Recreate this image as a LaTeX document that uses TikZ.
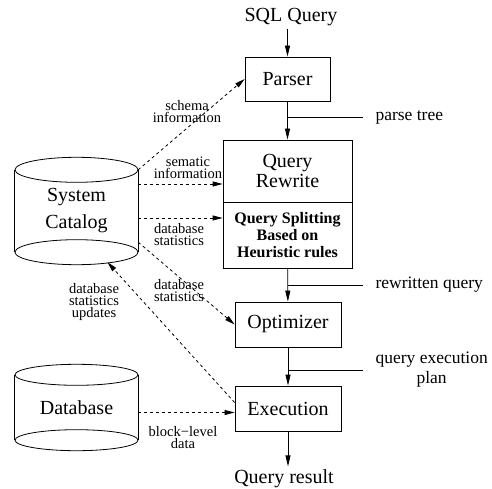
\documentclass[tikz,border=0pt]{standalone}
\usepackage{fontspec}
\setmainfont{Liberation Serif}
\usetikzlibrary{arrows.meta}

\begin{document}
\begin{tikzpicture}[x=1pt, y=-1pt,
  box/.style={draw, line width=0.8pt, align=center, inner sep=0pt, font=\fontsize{20}{20}\selectfont},
  store/.style={minimum width=123pt, align=center, inner sep=0pt, font=\fontsize{20}{27}\selectfont},
  big/.style={font=\fontsize{20}{24}\selectfont},
  side/.style={font=\fontsize{17.5}{20}\selectfont, align=center, anchor=west},
  tiny/.style={font=\fontsize{14.5}{12}\selectfont, align=center, inner sep=0pt},
  flow/.style={line width=0.8pt, -{Triangle[length=11pt,width=5pt]}},
  info/.style={line width=0.8pt, dashed, -{Triangle[length=10pt,width=5pt]}},
  tap/.style={line width=0.8pt}]
\useasboundingbox (0,0) rectangle (492,489);

% query pipeline
\node[big] (sql) at (291,17) {SQL Query};
\node[box, minimum width=85pt, minimum height=44pt] (parser) at (287.5,79) {Parser};
\node[box, minimum width=129pt, minimum height=62pt] (qr) at (287.5,171) {Query\\Rewrite};
\node[box, minimum width=129pt, minimum height=66pt, font=\fontsize{16}{17}\selectfont\bfseries] (split) at (287.5,235) {Query Splitting\\Based on\\Heuristic rules};
\node[box, minimum width=106pt, minimum height=45pt] (opt) at (288,324.5) {Optimizer};
\node[box, minimum width=106pt, minimum height=45pt] (exec) at (288,408.5) {Execution};
\node[big] (result) at (284,479) {Query result};

% stores
\node[store, minimum height=82pt] (catalog) at (76.5,211) {System\\Catalog};
\node[store, minimum height=65pt] (data) at (76.5,407.5) {Database};
\foreach \s/\ry in {catalog/12.5pt, data/10.5pt} {
  \draw[tap] (\s.north) ellipse (61.5pt and \ry);
  \draw[tap] (\s.south) ellipse (61.5pt and \ry);
  \draw[tap] (\s.north west) -- (\s.south west) (\s.north east) -- (\s.south east);
}

% intermediate results
\node[side] (ptree) at (372,117) {parse tree};
\node[side] (rwq) at (372,285) {rewritten query};
\node[side] (qep) at (372,370) {query execution\\plan};

\draw[flow] (parser.north |- sql.south) -- (parser.north);
\draw[flow] (parser) -- (qr);
\draw[flow] (split) -- (opt);
\draw[flow] (opt) -- (exec);
\draw[flow] (exec.south) -- (exec.south |- result.north);
\draw[tap] (parser.south |- ptree.west) -- ([xshift=-9pt]ptree.west);
\draw[tap] (split.south |- rwq.west) -- ([xshift=-9pt]rwq.west);
\draw[tap] (opt.south |- qep.west) -- ([xshift=-9pt]qep.west);

% catalog and data flows
\coordinate (semin) at ([yshift=-13pt]qr.west);
\coordinate (statin) at ([yshift=17pt]split.west);
\coordinate (catfoot) at ([xshift=31pt,yshift=-10pt]catalog.south);
\coordinate (blk) at ([yshift=-5pt]data.east);
\draw[info] (catalog.north east) -- (parser.west);
\draw[info] (semin -| catalog.east) -- (semin);
\draw[info] (statin -| catalog.east) -- (statin);
\draw[info] ([yshift=10pt]catalog.south east) -- (opt.west);
\draw[info] ([yshift=6pt]exec.west) -- (catfoot);
\draw[info] (blk) -- (blk -| exec.west);

\node[tiny] (schema) at (187,112) {schema\\information};
\node[tiny] (sematic) at (188,168) {sematic\\information};
\node[tiny] (stats1) at (179,235) {database\\statistics};
\node[tiny] (stats2) at (179,291) {database\\statistics};
\node[tiny] (updates) at (94,302) {database\\statistics\\updates};
\node[tiny] (block) at (183,438) {block−level\\data};
\end{tikzpicture}
\end{document}
